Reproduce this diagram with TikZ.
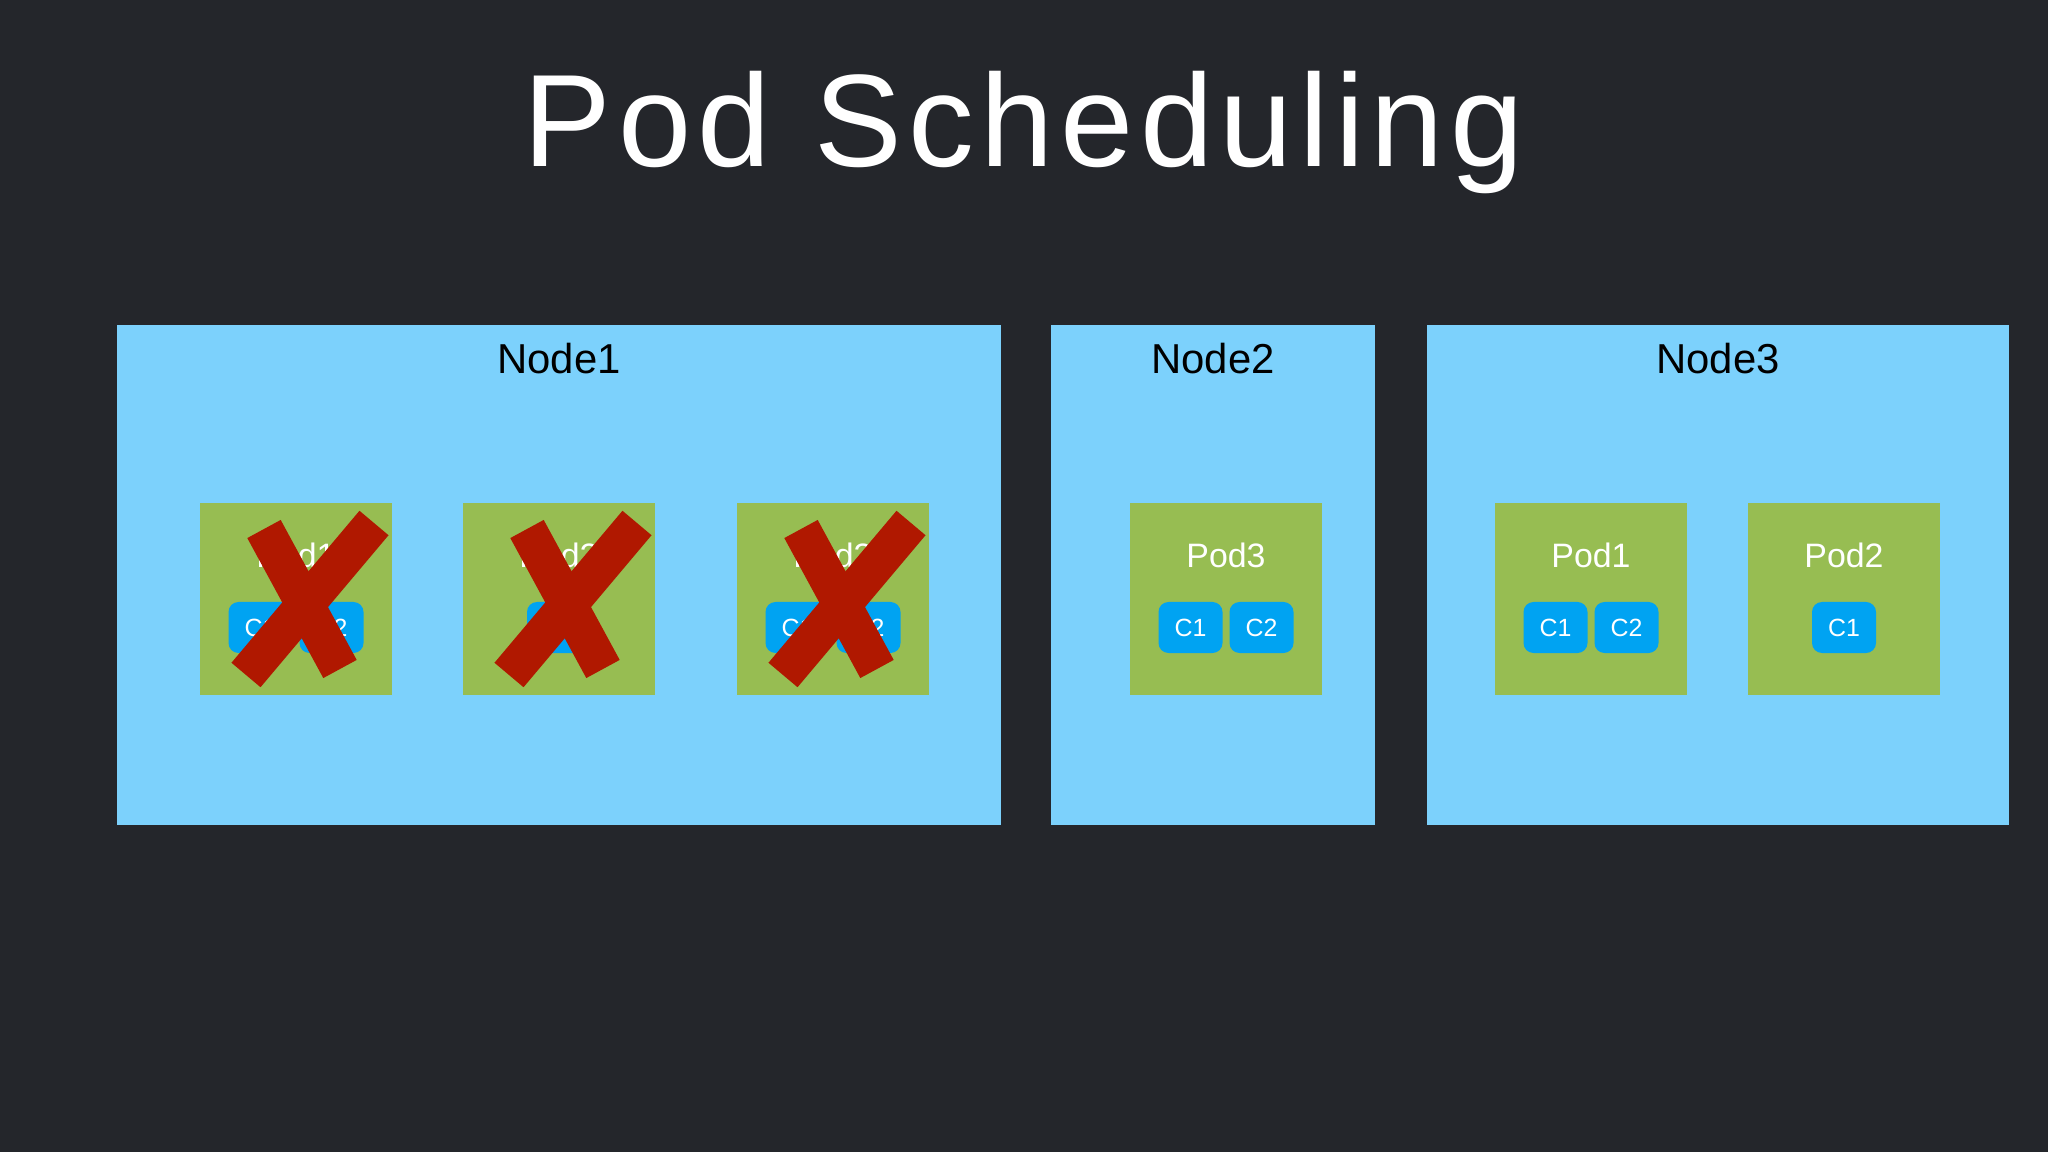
\documentclass[tikz,border=0pt]{standalone}
\usepackage{fontspec}
\setmainfont{Liberation Sans}
\newfontfamily\titlefont[LetterSpace=5]{Liberation Sans}
\usetikzlibrary{positioning}
\definecolor{slidebg}{RGB}{36,38,43}
\definecolor{nodeblue}{RGB}{124,209,252}
\definecolor{podgreen}{RGB}{151,189,82}
\definecolor{ctrblue}{RGB}{0,163,242}
\definecolor{crossred}{RGB}{176,24,0}
\tikzset{
  k8s_node/.style = {rectangle, fill=nodeblue, inner sep=0pt,
    minimum height=250bp},
  k8s_label/.style = {inner sep=0pt, text=black,
    font=\fontsize{21}{25}\selectfont},
  k8s_pod/.style = {rectangle, fill=podgreen, inner sep=0pt,
    minimum size=96bp},
  pod_label/.style = {inner sep=0pt, text=white,
    font=\fontsize{17}{20}\selectfont},
  k8s_ctr/.style = {rectangle, rounded corners=5bp, fill=ctrblue,
    text=white, inner sep=0pt, minimum width=32bp, minimum height=25.5bp,
    font=\fontsize{12.5}{15}\selectfont},
  k8s_x/.style = {draw=crossred, line width=19bp, line cap=butt}
}

\begin{document}
\begin{tikzpicture}[x=0.5bp,y=-0.5bp]
  \fill[slidebg] (0,0) rectangle (2048,1152);
  \node[text=white, anchor=base, inner sep=0pt,
        font=\titlefont\fontsize{66}{70}\selectfont] (title) at (1024,167)
        {Pod Scheduling};

  % worker nodes
  \node[k8s_node, minimum width=441.5bp] (node1) at (559,575) {};
  \node[k8s_node, minimum width=162bp] (node2) at (1213,575) {};
  \node[k8s_node, minimum width=291bp] (node3) at (1718,575) {};
  \node[k8s_label, below=9bp of node1.north] (node1_t) {Node1};
  \node[k8s_label, below=9bp of node2.north] (node2_t) {Node2};
  \node[k8s_label, below=9bp of node3.north] (node3_t) {Node3};

  % pods on Node1 (evicted)
  \node[k8s_pod] (n1p1) at (296,599) {};
  \node[pod_label, below=20bp of n1p1.north] (n1p1_t) {Pod1};
  \node[k8s_ctr, xshift=-17.75bp, yshift=-14.25bp] (n1p1_c1) at (n1p1) {C1};
  \node[k8s_ctr, xshift=17.75bp, yshift=-14.25bp] (n1p1_c2) at (n1p1) {C2};

  \node[k8s_pod] (n1p2) at (559,599) {};
  \node[pod_label, below=20bp of n1p2.north] (n1p2_t) {Pod2};
  \node[k8s_ctr, yshift=-14.25bp] (n1p2_c1) at (n1p2) {C1};

  \node[k8s_pod] (n1p3) at (833,599) {};
  \node[pod_label, below=20bp of n1p3.north] (n1p3_t) {Pod3};
  \node[k8s_ctr, xshift=-17.75bp, yshift=-14.25bp] (n1p3_c1) at (n1p3) {C1};
  \node[k8s_ctr, xshift=17.75bp, yshift=-14.25bp] (n1p3_c2) at (n1p3) {C2};

  \draw[k8s_x] ([shift={(-32,-70)}]n1p1.center) -- ([shift={(44,70)}]n1p1.center);
  \draw[k8s_x] ([shift={(78,-76)}]n1p1.center) -- ([shift={(-50,76)}]n1p1.center);
  \draw[k8s_x] ([shift={(-32,-70)}]n1p2.center) -- ([shift={(44,70)}]n1p2.center);
  \draw[k8s_x] ([shift={(78,-76)}]n1p2.center) -- ([shift={(-50,76)}]n1p2.center);
  \draw[k8s_x] ([shift={(-32,-70)}]n1p3.center) -- ([shift={(44,70)}]n1p3.center);
  \draw[k8s_x] ([shift={(78,-76)}]n1p3.center) -- ([shift={(-50,76)}]n1p3.center);

  % pod on Node2
  \node[k8s_pod] (n2p3) at (1226,599) {};
  \node[pod_label, below=20bp of n2p3.north] (n2p3_t) {Pod3};
  \node[k8s_ctr, xshift=-17.75bp, yshift=-14.25bp] (n2p3_c1) at (n2p3) {C1};
  \node[k8s_ctr, xshift=17.75bp, yshift=-14.25bp] (n2p3_c2) at (n2p3) {C2};

  % pods on Node3
  \node[k8s_pod] (n3p1) at (1591,599) {};
  \node[pod_label, below=20bp of n3p1.north] (n3p1_t) {Pod1};
  \node[k8s_ctr, xshift=-17.75bp, yshift=-14.25bp] (n3p1_c1) at (n3p1) {C1};
  \node[k8s_ctr, xshift=17.75bp, yshift=-14.25bp] (n3p1_c2) at (n3p1) {C2};

  \node[k8s_pod] (n3p2) at (1844,599) {};
  \node[pod_label, below=20bp of n3p2.north] (n3p2_t) {Pod2};
  \node[k8s_ctr, yshift=-14.25bp] (n3p2_c1) at (n3p2) {C1};
\end{tikzpicture}
\end{document}
